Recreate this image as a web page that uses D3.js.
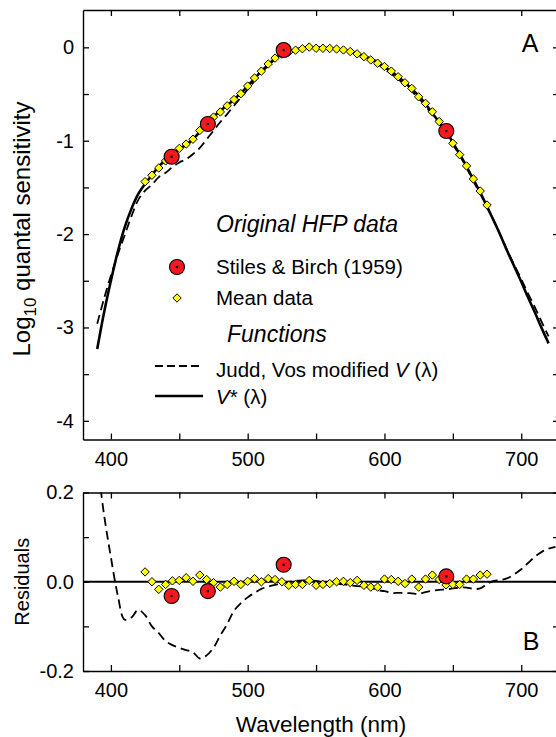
<!DOCTYPE html>
<html>
<head>
<meta charset="utf-8">
<script src="https://cdn.jsdelivr.net/npm/d3@7/dist/d3.min.js"></script>
<style>
html,body{margin:0;padding:0;background:#fff;}
svg{display:block;font-family:"Liberation Sans",Arial,Helvetica,sans-serif;}
</style>
</head>
<body>
<svg id="chart" width="556" height="737"></svg>
<script>
// ---------------- data ----------------
const xTicks = [400, 500, 600, 700];
const xMinorTicks = [450, 550, 650];
const yTicksA = [0, -1, -2, -3, -4];
const yTickLabelsA = ["0", "-1", "-2", "-3", "-4"];
const yMinorA = [-0.5, -1.5, -2.5, -3.5];
const yTicksB = [0.2, 0.0, -0.2];
const yTickLabelsB = ["0.2", "0.0", "-0.2"];
const yMinorB = [0.1, -0.1];

// V*(lambda) function (solid line), log10 quantal sensitivity
const vstarWl = [390,395,400,405,410,415,420,425,430,435,440,445,450,455,460,465,470,475,480,485,
  490,495,500,505,510,515,520,525,530,535,540,545,550,555,560,565,570,575,580,585,
  590,595,600,605,610,615,620,625,630,635,640,645,650,655,660,665,670,675,680,685,
  690,695,700,705,710,715,720];
const vstarVal = [-3.23,-2.84,-2.50,-2.19,-1.93,-1.73,-1.57,-1.46,-1.37,-1.275,-1.21,-1.14,-1.085,-1.045,-0.985,-0.905,-0.82,-0.745,-0.68,-0.62,
  -0.56,-0.49,-0.415,-0.335,-0.255,-0.185,-0.12,-0.072,-0.042,-0.024,-0.009,0.0,-0.002,-0.004,-0.008,-0.018,-0.029,-0.043,-0.073,-0.092,
  -0.123,-0.158,-0.211,-0.26,-0.316,-0.376,-0.446,-0.518,-0.606,-0.705,-0.80,-0.89,-1.022,-1.144,-1.276,-1.416,-1.554,-1.706,-1.86,-2.02,
  -2.19,-2.35,-2.51,-2.68,-2.84,-3.01,-3.17];
// Judd, Vos modified V(lambda) (dashed line), same wavelengths
const juddVal = [-2.96,-2.69,-2.445,-2.22,-2.015,-1.81,-1.633,-1.535,-1.47,-1.39,-1.343,-1.282,-1.233,-1.198,-1.143,-1.077,-0.985,-0.893,-0.80,-0.715,
  -0.625,-0.538,-0.45,-0.36,-0.271,-0.196,-0.127,-0.075,-0.042,-0.022,-0.006,0.003,0.0,-0.004,-0.01,-0.022,-0.035,-0.051,-0.083,-0.103,
  -0.136,-0.177,-0.232,-0.285,-0.341,-0.401,-0.472,-0.545,-0.629,-0.725,-0.818,-0.907,-1.037,-1.157,-1.289,-1.432,-1.569,-1.711,-1.858,-2.016,
  -2.182,-2.333,-2.482,-2.638,-2.784,-2.943,-3.096];
// Judd-Vos residuals (panel B dashed line)
const juddResWl = [390,395,400,405,410,415,420,425,430,435,440,445,450,455,460,465,470,475,480,485,
  490,495,500,505,510,515,520,525,530,535,540,545,550,555,560,565,570,575,580,585,
  590,595,600,605,610,615,620,625,630,635,640,645,650,655,660,665,670,675,680,685,
  690,695,700,705,710,715,720,725];
const juddRes = [0.27,0.15,0.055,-0.03,-0.085,-0.08,-0.063,-0.075,-0.10,-0.115,-0.133,-0.142,-0.148,-0.153,-0.158,-0.172,-0.165,-0.148,-0.12,-0.095,
  -0.065,-0.048,-0.035,-0.025,-0.016,-0.011,-0.007,-0.003,0.0,0.002,0.003,0.003,0.002,0.0,-0.002,-0.004,-0.006,-0.008,-0.01,-0.011,
  -0.013,-0.019,-0.021,-0.025,-0.025,-0.025,-0.026,-0.027,-0.023,-0.02,-0.018,-0.017,-0.015,-0.013,-0.013,-0.016,-0.015,-0.005,0.002,0.004,
  0.008,0.017,0.028,0.042,0.056,0.067,0.074,0.078];

// Mean HFP data (yellow diamonds)
const meanWl = [425,430,435,440,445,450,455,460,465,470,475,480,485,490,495,500,505,510,515,520,
  525,530,535,540,545,550,555,560,565,570,575,580,585,590,595,600,605,610,615,620,
  625,630,635,640,645,650,655,660,665,670,675];
const meanVal = [-1.438,-1.37,-1.292,-1.216,-1.138,-1.082,-1.036,-0.984,-0.89,-0.815,-0.747,-0.692,-0.626,-0.559,-0.496,-0.414,-0.328,-0.255,-0.178,-0.115,
  -0.072,-0.05,-0.03,-0.015,0.003,-0.01,-0.01,-0.012,-0.018,-0.028,-0.045,-0.07,-0.10,-0.135,-0.17,-0.205,-0.255,-0.315,-0.38,-0.44,
  -0.53,-0.60,-0.69,-0.795,-0.897,-1.028,-1.15,-1.27,-1.41,-1.539,-1.689];
const meanRes = [0.022,0.0,-0.017,-0.006,0.002,0.003,0.009,0.001,0.015,0.005,-0.002,-0.012,-0.006,0.001,-0.006,0.001,0.007,0.0,0.007,0.005,
  0.0,-0.008,-0.006,-0.006,0.003,-0.008,-0.006,-0.004,0.0,0.001,-0.002,0.003,-0.008,-0.012,-0.012,0.006,0.005,0.001,-0.004,0.006,
  -0.012,0.006,0.015,0.005,-0.007,-0.006,-0.006,0.006,0.006,0.015,0.017];

// Stiles & Birch (1959) (red circles)
const sbWl = [444.4, 470.9, 526.3, 645.2];
const sbVal = [-1.171, -0.821, -0.029, -0.896];
const sbRes = [-0.032, -0.021, 0.038, 0.012];

// ---------------- layout ----------------
const svg = d3.select("#chart");
const L = 83, R = 559;
const A = {top: 10, bottom: 439.5};
const B = {top: 492.5, bottom: 671};
const FONT = 20;

const x = d3.scaleLinear().domain([379.6, 727.6]).range([L, R]);
const yA = d3.scaleLinear().domain([-4.2, 0.4]).range([A.bottom, A.top]);
const yB = d3.scaleLinear().domain([-0.2, 0.2]).range([B.bottom, B.top]);

svg.append("defs").append("clipPath").attr("id", "clipB")
  .append("rect").attr("x", L).attr("y", B.top).attr("width", R - L).attr("height", B.bottom - B.top);
svg.append("defs").append("clipPath").attr("id", "clipA")
  .append("rect").attr("x", L).attr("y", A.top).attr("width", R - L).attr("height", A.bottom - A.top);

const allX = xTicks.concat(xMinorTicks);
const xFmt = d => xTicks.includes(d) ? String(d) : "";

function styleAxis(g) {
  g.selectAll("path.domain").attr("stroke", "#000").attr("stroke-width", 1.4);
  g.selectAll(".tick line").attr("stroke", "#000").attr("stroke-width", 1.3);
  g.selectAll(".tick text").attr("fill", "#000").attr("font-size", FONT)
    .attr("font-family", "'Liberation Sans', Arial, sans-serif");
}

function panel(y, top, bottom, yTicks, yLabels, yMinor) {
  const allY = yTicks.concat(yMinor);
  const yFmt = d => { const i = yTicks.indexOf(d); return i >= 0 ? yLabels[i] : ""; };
  svg.append("g").attr("transform", `translate(0,${bottom})`)
    .call(d3.axisBottom(x).tickValues(allX).tickSizeInner(-6).tickSizeOuter(0).tickPadding(12).tickFormat(xFmt))
    .call(styleAxis);
  svg.append("g").attr("transform", `translate(0,${top})`)
    .call(d3.axisTop(x).tickValues(allX).tickSizeInner(-6).tickSizeOuter(0).tickFormat(""))
    .call(styleAxis);
  svg.append("g").attr("transform", `translate(${L},0)`)
    .call(d3.axisLeft(y).tickValues(allY).tickSizeInner(-6).tickSizeOuter(0).tickPadding(9).tickFormat(yFmt))
    .call(styleAxis);
  svg.append("g").attr("transform", `translate(${R},0)`)
    .call(d3.axisRight(y).tickValues(allY).tickSizeInner(-6).tickSizeOuter(0).tickFormat(""))
    .call(styleAxis);
}
panel(yA, A.top, A.bottom, yTicksA, yTickLabelsA, yMinorA);
panel(yB, B.top, B.bottom, yTicksB, yTickLabelsB, yMinorB);

// ---------------- panel A ----------------
const gA = svg.append("g").attr("clip-path", "url(#clipA)");
const lineA = d3.line().curve(d3.curveCatmullRom.alpha(0.5)).x(d => x(d[0])).y(d => yA(d[1]));
gA.append("path").datum(d3.zip(vstarWl, juddVal)).attr("d", lineA)
  .attr("fill", "none").attr("stroke", "#000").attr("stroke-width", 1.8).attr("stroke-dasharray", "9,5");
gA.append("path").datum(d3.zip(vstarWl, vstarVal)).attr("d", lineA)
  .attr("fill", "none").attr("stroke", "#000").attr("stroke-width", 2.6);

const diamond = s => `M0,${-s}L${s},0L0,${s}L${-s},0Z`;
function diamonds(g, xs, ys, yS) {
  g.selectAll(null).data(d3.zip(xs, ys)).enter().append("path")
    .attr("d", diamond(4.2))
    .attr("transform", d => `translate(${x(d[0])},${yS(d[1])})`)
    .attr("fill", "#ffff00").attr("stroke", "#000").attr("stroke-width", 1);
}
function circles(g, xs, ys, yS) {
  const c = g.selectAll(null).data(d3.zip(xs, ys)).enter().append("g")
    .attr("transform", d => `translate(${x(d[0])},${yS(d[1])})`);
  c.append("circle").attr("r", 7.5).attr("fill", "#f4191f").attr("stroke", "#000").attr("stroke-width", 1.1);
  c.append("circle").attr("r", 1.3).attr("fill", "#000");
}
diamonds(gA, meanWl, meanVal, yA);
circles(gA, sbWl, sbVal, yA);

// ---------------- panel B ----------------
const gB = svg.append("g").attr("clip-path", "url(#clipB)");
gB.append("line").attr("x1", L).attr("x2", R).attr("y1", yB(0)).attr("y2", yB(0))
  .attr("stroke", "#000").attr("stroke-width", 2.2);
const lineB = d3.line().curve(d3.curveCatmullRom.alpha(0.5)).x(d => x(d[0])).y(d => yB(d[1]));
gB.append("path").datum(d3.zip(juddResWl, juddRes)).attr("d", lineB)
  .attr("fill", "none").attr("stroke", "#000").attr("stroke-width", 1.8).attr("stroke-dasharray", "9,5");
diamonds(gB, meanWl, meanRes, yB);
circles(gB, sbWl, sbRes, yB);

// ---------------- labels ----------------
svg.append("text").attr("x", 530).attr("y", 52).attr("text-anchor", "middle")
  .attr("font-size", 25).text("A");
svg.append("text").attr("x", 531).attr("y", 650).attr("text-anchor", "middle")
  .attr("font-size", 25).text("B");

const yt = svg.append("text").attr("transform", `translate(30,229) rotate(-90)`)
  .attr("text-anchor", "middle").attr("font-size", 24);
yt.append("tspan").text("Log");
yt.append("tspan").attr("font-size", 17).attr("dy", 6).text("10");
yt.append("tspan").attr("dy", -6).text(" quantal sensitivity");

svg.append("text").attr("transform", `translate(29,${yB(0)}) rotate(-90)`)
  .attr("text-anchor", "middle").attr("font-size", FONT).text("Residuals");

svg.append("text").attr("x", (L + R) / 2).attr("y", 732).attr("text-anchor", "middle")
  .attr("font-size", 22.5).text("Wavelength (nm)");

// ---------------- legend ----------------
const lg = svg.append("g");
const TX = 216;
const LF = 20.5;
lg.append("text").attr("x", TX).attr("y", 232).attr("font-size", 23).attr("font-style", "italic").text("Original HFP data");
circles(lg, [0], [0], () => 0);
lg.selectAll("g").attr("transform", "translate(177,267)");
lg.append("text").attr("x", TX).attr("y", 274).attr("font-size", LF).text("Stiles & Birch (1959)");
lg.append("path").attr("d", diamond(4.2)).attr("transform", "translate(177,298)")
  .attr("fill", "#ffff00").attr("stroke", "#000").attr("stroke-width", 1);
lg.append("text").attr("x", TX).attr("y", 305).attr("font-size", LF).text("Mean data");
lg.append("text").attr("x", 227).attr("y", 342).attr("font-size", 23).attr("font-style", "italic").text("Functions");
lg.append("line").attr("x1", 155).attr("x2", 203).attr("y1", 366).attr("y2", 366)
  .attr("stroke", "#000").attr("stroke-width", 1.8).attr("stroke-dasharray", "8,4");
const t1 = lg.append("text").attr("x", TX).attr("y", 377).attr("font-size", LF);
t1.append("tspan").text("Judd, Vos modified ");
t1.append("tspan").attr("font-style", "italic").text("V");
t1.append("tspan").text(" (λ)");
lg.append("line").attr("x1", 155).attr("x2", 203).attr("y1", 396).attr("y2", 396)
  .attr("stroke", "#000").attr("stroke-width", 2.6);
const t2 = lg.append("text").attr("x", TX).attr("y", 404).attr("font-size", LF);
t2.append("tspan").attr("font-style", "italic").text("V");
t2.append("tspan").text("* (λ)");
</script>
</body>
</html>
